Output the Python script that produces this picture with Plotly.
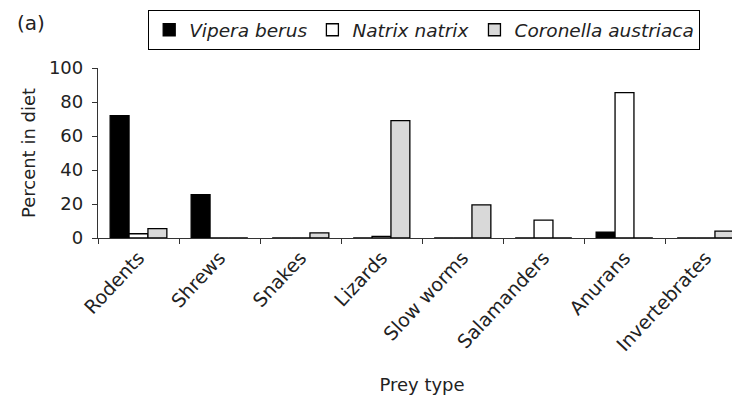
import plotly.graph_objects as go

categories = ["Rodents", "Shrews", "Snakes", "Lizards", "Slow worms", "Salamanders", "Anurans", "Invertebrates"]
vipera_berus = [72, 25.5, 0, 0, 0, 0, 3.5, 0]
natrix_natrix = [2.5, 0, 0, 1, 0, 10.5, 85.5, 0]
coronella_austriaca = [5.5, 0, 3, 69, 19.5, 0, 0, 4]
y_ticks = [0, 20, 40, 60, 80, 100]

FONT = "DejaVu Sans, Liberation Sans, Arial, sans-serif"
TXT = "#222222"

fig = go.Figure()
for name, vals, col in [
    ("Vipera berus", vipera_berus, "black"),
    ("Natrix natrix", natrix_natrix, "white"),
    ("Coronella austriaca", coronella_austriaca, "#d9d9d9"),
]:
    fig.add_trace(go.Bar(
        x=categories, y=vals, name=f"<i>{name}</i>",
        marker=dict(color=col, line=dict(color="black", width=1.3)),
    ))

fig.update_layout(
    width=740, height=401,
    margin=dict(l=90, r=2, t=60, b=171),
    paper_bgcolor="white", plot_bgcolor="white",
    barmode="group", bargap=0.3, bargroupgap=0,
    font=dict(family=FONT, size=18, color=TXT),
    showlegend=True,
    legend=dict(
        orientation="h", xref="container", yref="container",
        x=140 / 740, y=1 - 2 / 401, xanchor="left", yanchor="top",
        bordercolor="black", borderwidth=1.2, bgcolor="white",
        font=dict(family=FONT, size=18.5, color=TXT),
        itemwidth=30, tracegroupgap=0,
    ),
    xaxis=dict(
        type="category", showline=True, linecolor="#333", linewidth=1.3,
        ticks="outside", tickson="boundaries", ticklen=5, tickcolor="#333",
        tickangle=-47, tickfont=dict(size=19, color=TXT),
        showgrid=False, zeroline=False, automargin=True,
        title=dict(text="Prey type", font=dict(size=18, color=TXT), standoff=24),
    ),
    yaxis=dict(
        range=[0, 100], tickvals=y_ticks, showline=True, linecolor="#333", linewidth=1.3,
        ticks="outside", ticklen=5, tickcolor="#333", showgrid=False, zeroline=False,
        tickfont=dict(size=18, color=TXT), automargin=True, ticklabelstandoff=5,
        title=dict(text="Percent in diet", font=dict(size=18, color=TXT), standoff=8),
    ),
)
fig.add_annotation(
    text="(a)", xref="paper", yref="paper", x=-0.103, y=1.265,
    xanchor="center", yanchor="middle", showarrow=False,
    font=dict(family=FONT, size=20, color=TXT),
)
fig.write_html("out.html")
